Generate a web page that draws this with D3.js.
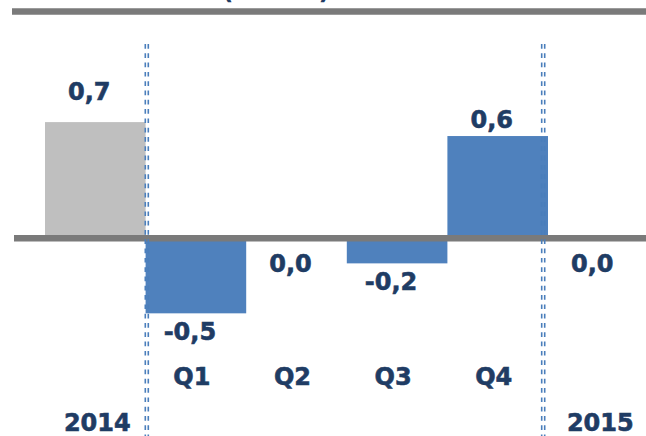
<!DOCTYPE html>
<html>
<head>
<meta charset="utf-8">
<script src="https://cdn.jsdelivr.net/npm/d3@7"></script>
<style>
  html, body { margin: 0; padding: 0; background: #fff; }
  svg { display: block; }
  text { paint-order: stroke; }
</style>
</head>
<body>
<svg id="chart" width="646" height="436"></svg>
<script>
// Quarterly change, with the annual figures on either side
const categories = ["2014", "Q1", "Q2", "Q3", "Q4", "2015"];
const values     = [0.70, -0.452, 0.0, -0.151, 0.616, 0.0];
const isAnnual   = [true, false, false, false, false, true];
const quarterLabels = ["Q1", "Q2", "Q3", "Q4"];
const yearLabels    = ["2014", "2015"];
const titleText = "(var. %)";

const W = 646, H = 436;
const navy = "#1f3c64";
const barBlue = "#4f81bd";
const barGray = "#bfbfbf";
const ruleGray = "#7a7a7a";
const dashBlue = "#4a7ebb";

const locale = d3.formatLocale({ decimal: ",", thousands: ".", grouping: [3], currency: ["", "€"], minus: "-" });
const fmt = locale.format(".1f");

const svg = d3.select("#chart");

const x = d3.scaleBand().domain(categories).range([45, 648.6]).padding(0);
const y = d3.scaleLinear().domain([-1, 1]).range([238.3 + 166, 238.3 - 166]);

const data = categories.map((c, i) => ({ cat: c, v: values[i], annual: isAnnual[i] }));

// bold label style shared by the chart texts
function labelStyle(sel) {
  return sel
    .attr("font-family", "DejaVu Sans, Verdana, sans-serif")
    .attr("font-weight", "bold").attr("font-size", 24)
    .attr("fill", navy)
    .attr("stroke", navy).attr("stroke-width", 0.6);
}

// heading sits mostly above the top edge
svg.append("text")
  .attr("x", 276).attr("y", -1.5)
  .attr("text-anchor", "middle")
  .attr("font-family", "DejaVu Sans, Verdana, sans-serif")
  .attr("font-weight", "bold").attr("font-size", 25)
  .attr("fill", navy)
  .text(titleText);

// heading rule
svg.append("line")
  .attr("x1", 12).attr("x2", W)
  .attr("y1", 11.5).attr("y2", 11.5)
  .attr("stroke", ruleGray).attr("stroke-width", 6.5);

// bars
svg.append("g").selectAll("rect")
  .data(data.filter(d => d.v !== 0))
  .join("rect")
  .attr("x", d => x(d.cat))
  .attr("width", x.bandwidth())
  .attr("y", d => y(Math.max(0, d.v)))
  .attr("height", d => Math.abs(y(d.v) - y(0)))
  .attr("fill", d => d.annual ? barGray : barBlue);

// zero line
svg.append("line")
  .attr("x1", 14).attr("x2", W)
  .attr("y1", y(0)).attr("y2", y(0))
  .attr("stroke", ruleGray).attr("stroke-width", 6.5);

// double dotted separators between the annual and quarterly blocks
const separators = [x("Q1") + 1.2, x("2015") - 4.8];
const sepG = svg.append("g");
separators.forEach(sx => {
  [-1.5, 1.5].forEach(off => {
    sepG.append("line")
      .attr("x1", sx + off).attr("x2", sx + off)
      .attr("y1", 44).attr("y2", H)
      .attr("stroke", dashBlue)
      .attr("stroke-width", 1.6)
      .attr("stroke-dasharray", "4.7 4.6");
  });
});

// value labels
svg.append("g").selectAll("text")
  .data(data)
  .join("text")
  .attr("x", d => x(d.cat) + x.bandwidth() / 2 - 6)
  .attr("y", d => {
    if (d.v > 0) return y(d.v) - (d.annual ? 22 : 8);
    if (d.v < 0) return y(d.v) + 27;
    return y(0) + 34;
  })
  .attr("text-anchor", "middle")
  .call(labelStyle)
  .text(d => fmt(d.v));

// quarter labels
svg.append("g").selectAll("text")
  .data(quarterLabels)
  .join("text")
  .attr("x", d => x(d) + x.bandwidth() / 2 - 4)
  .attr("y", 385)
  .attr("text-anchor", "middle")
  .call(labelStyle)
  .text(d => d);

// year labels
svg.append("g").selectAll("text")
  .data(yearLabels)
  .join("text")
  .attr("x", d => x(d) + x.bandwidth() / 2 + 2)
  .attr("y", 430.5)
  .attr("text-anchor", "middle")
  .call(labelStyle)
  .text(d => d);
</script>
</body>
</html>
